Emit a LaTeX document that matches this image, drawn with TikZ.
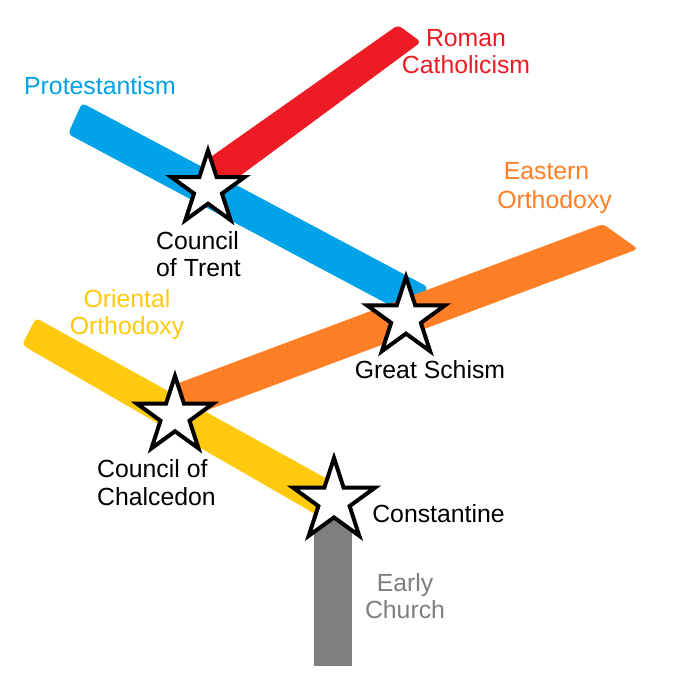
\documentclass[tikz,border=0pt]{standalone}
\usepackage{fontspec}
\setmainfont{Liberation Sans}
\usetikzlibrary{shapes.geometric}
\definecolor{cred}{HTML}{ED1C24}
\definecolor{cblue}{HTML}{00A2E8}
\definecolor{corange}{HTML}{FF7F27}
\definecolor{cyellow}{HTML}{FFC90E}
\definecolor{cgray}{HTML}{7F7F7F}
\begin{document}
\begin{tikzpicture}[x=1pt,y=-1pt,
  bar/.style={rounded corners=4pt},
  starnode/.style={star, star points=5, star point ratio=2.618, inner sep=0pt,
    draw=black, fill=white, line width=4pt},
  lbl/.style={font=\fontsize{24.8}{27}\selectfont, align=center, anchor=base, inner sep=0pt}]
\useasboundingbox[fill=white] (0,0) rectangle (678,680);
% branches
\fill[cgray] (314,505) rectangle (352,666);
\fill[cblue, bar] (82,103) -- (68,134) -- (412,317) -- (428,287) -- cycle;
\fill[corange, bar] (603,224) -- (638,249) -- (189,417) -- (176,384) -- cycle;
\fill[cyellow, bar] (36,318) -- (22,345) -- (322,518) -- (340,486) -- cycle;
\fill[cred, bar] (398,25) -- (421,42) -- (225,187) -- (205,161) -- cycle;
% events
\node[starnode, minimum size=77pt] (trent) at (208,189) {};
\node[starnode, minimum size=82pt] (schism) at (406,318) {};
\node[starnode, minimum size=80pt] (chalcedon) at (175,416) {};
\node[starnode, minimum size=86pt] (constantine) at (334,501) {};
% labels (anchor = baseline of last line)
\node[lbl, text=cred] (lrc) at (466,73) {Roman\\Catholicism};
\node[lbl, text=cblue] (lpr) at (100,94) {Protestantism};
\node[lbl, text=corange, font=\fontsize{24.8}{29.5}\selectfont] (leo) at (554.5,208.5) {Eastern\hspace*{16pt}\\Orthodoxy};
\node[lbl, text=cyellow] (loo) at (127,334) {Oriental\\Orthodoxy};
\node[lbl, align=left, anchor=base west] (ltrent) at (156,276.5) {Council\\of Trent};
\node[lbl, align=left, anchor=base west, font=\fontsize{24.8}{28}\selectfont] (lchal) at (97,505) {Council of\\Chalcedon};
\node[lbl] (lschism) at (430,378) {Great Schism};
\node[lbl] (lconst) at (438.5,522) {Constantine};
\node[lbl, text=cgray] (learly) at (405,618) {Early\\Church};
\end{tikzpicture}
\end{document}
